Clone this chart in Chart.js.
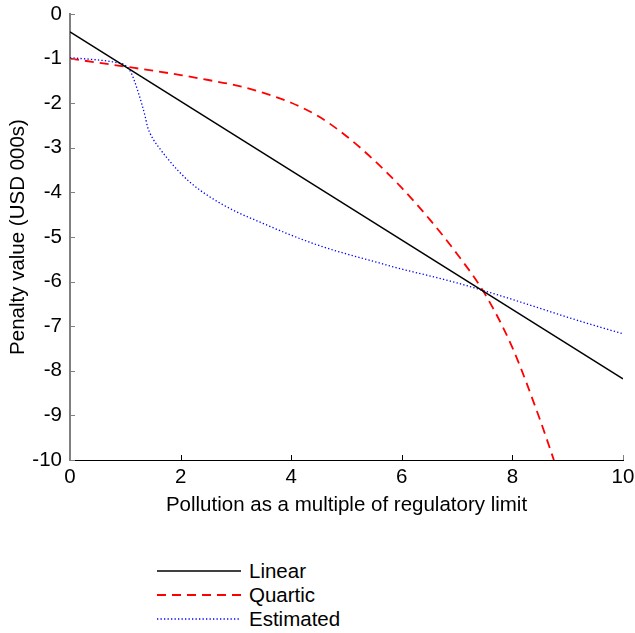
<!DOCTYPE html>
<html>
<head>
<meta charset="utf-8">
<script src="https://cdn.jsdelivr.net/npm/chart.js@4/dist/chart.umd.min.js"></script>
<style>
  html, body { margin: 0; padding: 0; background: #fff; }
  #wrap { position: relative; width: 635px; height: 633px; font-family: "Liberation Sans", Arial, sans-serif; }
  #c { position: absolute; left: 0; top: 0; }
  .leg { position: absolute; left: 157px; height: 24px; display: flex; align-items: center; font-size: 20.5px; color: #000; }
  .leg svg { display: block; margin-right: 8px; }
</style>
</head>
<body>
<div id="wrap">
  <canvas id="c" width="635" height="530"></canvas>
  <div id="legend"></div>
</div>
<script>
// ---- data ----
const xTickValues = [0, 2, 4, 6, 8, 10];
const yTickValues = [0, -1, -2, -3, -4, -5, -6, -7, -8, -9, -10];

const linearX = [0, 10];
const linearY = [-0.4, -8.18];

const quarticX = [0, 0.5, 1, 1.5, 2, 2.5, 3, 3.5, 4, 4.5, 5, 5.5, 6, 6.5, 7, 7.5, 8, 8.5, 8.75];
const quarticY = [-1, -1.09, -1.18, -1.27, -1.37, -1.48, -1.6, -1.77, -1.99, -2.3, -2.74, -3.28, -3.9, -4.6, -5.38, -6.27, -7.48, -9.1, -10];

const estX = [0, 0.5, 0.8, 1.02, 1.11, 1.24, 1.36, 1.4, 1.45, 1.5, 1.6, 1.75, 1.96, 2.15, 2.35, 2.7, 3.02, 3.5, 4, 4.5, 5, 5.5, 6, 6.5, 7, 7.5, 8, 8.5, 9, 9.5, 10];
const estY = [-0.98, -1.03, -1.08, -1.17, -1.33, -1.78, -2.3, -2.52, -2.68, -2.8, -2.98, -3.22, -3.52, -3.75, -3.95, -4.23, -4.44, -4.7, -4.96, -5.19, -5.38, -5.55, -5.72, -5.87, -6.03, -6.21, -6.4, -6.6, -6.8, -6.99, -7.17];

const seriesNames = ["Linear", "Quartic", "Estimated"];
const xTitle = "Pollution as a multiple of regulatory limit";
const yTitle = "Penalty value (USD 000s)";

// ---- build ----
function pts(xs, ys) { return xs.map((x, i) => ({x: x, y: ys[i]})); }

const styles = [
  {color: "#000000", width: 1.5, dash: []},
  {color: "#ff0000", width: 1.8, dash: [9, 6]},
  {color: "#0000ff", width: 1.3, dash: [1.3, 2.2]}
];
const dataSets = [pts(linearX, linearY), pts(quarticX, quarticY), pts(estX, estY)];

const FONT = 20.5;
Chart.defaults.font.family = '"Liberation Sans", Arial, sans-serif';
Chart.defaults.font.size = FONT;
Chart.defaults.color = "#000";

const inwardTicks = {
  id: "inwardTicks",
  afterDatasetsDraw(chart) {
    const ctx = chart.ctx;
    const xs = chart.scales.x, ys = chart.scales.y;
    const area = chart.chartArea;
    ctx.save();
    ctx.lineWidth = 1;
    ctx.strokeStyle = "#808080";
    yTickValues.forEach(v => {
      const py = Math.round(ys.getPixelForValue(v)) + 0.5;
      ctx.beginPath(); ctx.moveTo(area.left, py); ctx.lineTo(area.left + 5, py); ctx.stroke();
    });
    xTickValues.forEach((v, i) => {
      const px = Math.round(xs.getPixelForValue(v)) + 0.5;
      ctx.strokeStyle = (i === 0 || i === xTickValues.length - 1) ? "#808080" : "#000";
      ctx.beginPath(); ctx.moveTo(px, area.bottom); ctx.lineTo(px, area.bottom - 5); ctx.stroke();
    });
    ctx.restore();
  }
};

new Chart(document.getElementById("c"), {
  type: "line",
  data: {
    datasets: dataSets.map((d, i) => ({
      label: seriesNames[i],
      data: d,
      borderColor: styles[i].color,
      backgroundColor: styles[i].color,
      borderWidth: styles[i].width,
      borderDash: styles[i].dash,
      pointRadius: 0,
      fill: false,
      cubicInterpolationMode: i === 0 ? "default" : "monotone",
      tension: 0
    }))
  },
  options: {
    responsive: false,
    animation: false,
    devicePixelRatio: 1,
    layout: {padding: {top: 14, right: 12, left: 0, bottom: 0}},
    plugins: {legend: {display: false}, tooltip: {enabled: false}},
    scales: {
      x: {
        type: "linear", min: 0, max: 10,
        afterFit(s) { s.height = 70; s.paddingLeft = 0; s.paddingRight = 0; },
        afterBuildTicks(s) { s.ticks = xTickValues.map(v => ({value: v})); },
        ticks: {padding: 5, maxRotation: 0, color: "#000"},
        grid: {display: true, drawOnChartArea: false, drawTicks: false},
        border: {display: true, color: "#000", width: 1},
        title: {display: true, text: xTitle, color: "#000", padding: {top: 0, bottom: 12}}
      },
      y: {
        type: "linear", min: -10, max: 0,
        afterFit(s) { s.width = 70; s.paddingTop = 0; s.paddingBottom = 0; },
        afterBuildTicks(s) { s.ticks = yTickValues.map(v => ({value: v})); },
        ticks: {padding: 8, color: "#000"},
        grid: {display: true, drawOnChartArea: false, drawTicks: false},
        border: {display: true, color: "#808080", width: 2},
        title: {display: true, text: yTitle, color: "#000", padding: {top: 6, bottom: 0}}
      }
    }
  },
  plugins: [inwardTicks]
});

// HTML legend built from the same series
const legend = document.getElementById("legend");
const legendTops = [559, 583, 607];
seriesNames.forEach((name, i) => {
  const row = document.createElement("div");
  row.className = "leg";
  row.style.top = legendTops[i] + "px";
  const s = styles[i];
  row.innerHTML = '<svg width="84" height="10"><line x1="0" y1="5" x2="84" y2="5" stroke="' + s.color +
    '" stroke-width="' + s.width + '"' + (s.dash.length ? ' stroke-dasharray="' + s.dash.join(",") + '"' : '') +
    '/></svg><span>' + name + '</span>';
  legend.appendChild(row);
});
</script>
</body>
</html>
